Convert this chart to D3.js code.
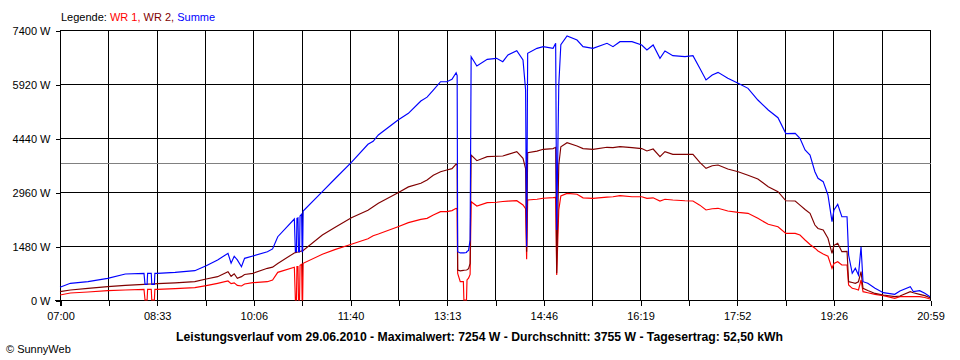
<!DOCTYPE html>
<html>
<head>
<meta charset="utf-8">
<script src="https://cdn.jsdelivr.net/npm/d3@7"></script>
<style>
  html, body { margin: 0; padding: 0; background: #fff; }
  svg { display: block; }
  text { font-family: "Liberation Sans", Arial, sans-serif; }
</style>
</head>
<body>
<svg id="chart" width="960" height="360"></svg>
<script>
// ---------- data (times in minutes after midnight, values in W) ----------
const times = [420,430,447,466,483,501,502,504,504.5,508,508.5,511,511.5,514,531,550,561,572,
  582,585,588,591,595,598,606,620,625,630,646,647,648,648.5,649.5,650,651,651.5,653,653.5,654,654.5,
  673,685,701,717,722,727,746,756,768,774,780,787,793,798,802,803,803.5,806,809,809.5,812,812.5,814,815.5,816.5,
  822,832,841,847,852,860.5,866.5,869,870,871,880,886,895.5,898,899,901,903,909,918.6,924.4,934,947.5,953.3,960,
  971.6,981,986,992,998.6,1003.4,1011,1022.7,1030.4,1037,1043,1049,1054.6,1064,1074,1083.5,1093,1103,1112.4,
  1120,1129,1133.6,1138.5,1143.3,1148,1151,1156,1160.6,1164.5,1166.4,1170,1174,1179,1180.5,1184,1187,1190,
  1192.5,1194.4,1199,1206,1214,1225,1230,1240,1243,1249,1254,1259];
const wr1 = [137,192,220,256,275,292,0,0,292,292,0,0,292,292,310,338,393,457,
  521,450,470,400,384,440,475,502,548,758,900,0,0,913,913,0,0,950,980,0,0,1005,
  1252,1380,1526,1680,1763,1810,2009,2120,2210,2238,2330,2421,2421,2450,2512,2500,731,502,502,0,0,550,600,700,2695,
  2576,2667,2680,2700,2710,2722,2604,2500,1114,2741,2760,2790,2804,2810,685,2467,2850,2923,2900,2800,2787,2820,2831,2859,
  2831,2831,2786,2800,2713,2760,2740,2720,2713,2600,2467,2500,2513,2439,2400,2376,2238,2074,2009,
  1827,1827,1780,1644,1520,1420,1343,1260,1200,868,1000,1050,959,959,411,320,300,274,
  548,228,200,155,120,46,91,91,91,91,70,27];
const wr2 = [228,274,320,365,400,430,432,434,435,438,438,440,440,448,470,502,576,639,
  777,650,720,594,640,700,731,868,900,1000,1290,1300,1305,1310,1315,1318,1320,1330,1345,1350,1355,1360,
  1781,1990,2256,2460,2557,2650,2941,3100,3198,3290,3420,3517,3563,3600,3727,3700,822,800,810,815,822,830,860,1000,3974,
  3818,3928,3940,3947,3990,4065,3883,3600,1324,4038,4080,4130,4150,4185,731,3700,4200,4312,4221,4150,4130,4185,4175,4203,
  4175,4150,4084,4138,3928,4065,3993,3990,3993,3773,3609,3680,3700,3590,3517,3420,3316,3105,2968,
  2720,2713,2600,2480,2376,2055,1960,1918,1690,1279,1500,1553,1324,1330,502,480,457,500,
  777,320,260,180,137,91,110,228,200,155,120,64];
const summe = [350,457,502,594,712,731,430,430,731,731,430,430,731,731,758,804,941,1096,
  1279,1010,1200,1100,913,1142,1206,1324,1400,1735,2220,1324,1324,2238,2250,1324,1324,2300,2350,1324,1324,2439,
  2968,3316,3773,4267,4350,4522,4933,5116,5454,5560,5755,5983,5983,6050,6230,6150,1324,1290,1290,1290,1300,1330,1360,1650,6669,
  6413,6596,6623,6532,6715,6833,6578,5755,1461,6760,6897,6943,6897,7035,1918,5892,7000,7236,7126,6943,6897,7035,6943,7080,
  7080,6989,6852,6989,6623,6824,6696,6669,6696,6350,6030,6167,6239,6075,5938,5801,5481,5207,4997,
  4560,4568,4431,4111,3974,3517,3335,3243,2878,2147,2467,2622,2283,2283,1233,731,868,685,
  1461,502,457,320,201,155,247,365,228,256,183,91];

const durchschnitt = 3755;
const xTickLabels = ["07:00","08:33","10:06","11:40","13:13","14:46","16:19","17:52","19:26","20:59"];
const yTicks = [0,1480,2960,4440,5920,7400];
const legendItems = ["WR 1", "WR 2", "Summe"];
const titleText = "Leistungsverlauf vom 29.06.2010 - Maximalwert: 7254 W - Durchschnitt: 3755 W - Tagesertrag: 52,50 kWh";
const copyrightText = "\u00A9 SunnyWeb";

// ---------- layout ----------
const svg = d3.select("#chart");
const pLeft = 60, pRight = 930, pTop = 30, pBottom = 300;
const tStart = 420, tEnd = 1259;
const x = d3.scaleLinear().domain([tStart, tEnd]).range([pLeft, pRight]);
const y = d3.scaleLinear().domain([0, 7400]).range([pBottom, pTop]);
const colors = { wr1: "#ff0000", wr2: "#800000", summe: "#0000ff" };

svg.append("rect").attr("width", 960).attr("height", 360).attr("fill", "#fff");

// vertical grid ticks (18 intervals)
const xTickVals = d3.range(19).map(i => tStart + i * (tEnd - tStart) / 18);

// grid
const grid = svg.append("g").attr("shape-rendering", "crispEdges");
grid.selectAll("line.v").data(xTickVals).join("line")
  .attr("x1", d => Math.round(x(d)) + 0.5).attr("x2", d => Math.round(x(d)) + 0.5)
  .attr("y1", pTop).attr("y2", pBottom)
  .attr("stroke", "#000").attr("stroke-width", 1);
grid.selectAll("line.h").data(yTicks).join("line")
  .attr("x1", pLeft).attr("x2", pRight + 1)
  .attr("y1", d => Math.round(y(d)) + 0.5).attr("y2", d => Math.round(y(d)) + 0.5)
  .attr("stroke", "#000").attr("stroke-width", 1);

// average line
svg.append("line")
  .attr("x1", pLeft).attr("x2", pRight + 1)
  .attr("y1", Math.round(y(durchschnitt)) + 0.5).attr("y2", Math.round(y(durchschnitt)) + 0.5)
  .attr("stroke", "#808080").attr("stroke-width", 1).attr("shape-rendering", "crispEdges");

// axes
const xAxis = d3.axisBottom(x)
  .tickValues(xTickVals)
  .tickSize(5).tickSizeOuter(0).tickPadding(7)
  .tickFormat((d, i) => i % 2 === 0 ? xTickLabels[i / 2] : "");
const gx = svg.append("g").attr("transform", `translate(0.5,${pBottom + 0.5})`).call(xAxis);
const yAxis = d3.axisLeft(y)
  .tickValues(yTicks)
  .tickSize(5).tickSizeOuter(0).tickPadding(5)
  .tickFormat(d => d + " W");
const gy = svg.append("g").attr("transform", `translate(${pLeft + 0.5},0.5)`).call(yAxis);
[gx, gy].forEach(g => {
  g.attr("shape-rendering", "crispEdges");
  g.selectAll("path.domain").attr("stroke", "#000");
  g.selectAll(".tick line").attr("stroke", "#000");
  g.selectAll("text").attr("fill", "#000").style("font-size", "11px")
    .style("font-family", '"Liberation Sans", Arial, sans-serif');
});
gy.select("path.domain").attr("d", `M0,${pTop}V${pBottom + 5}`);
gx.select("path.domain").attr("d", `M${pLeft - 5 - 0.5},0H${pRight}`);

// series
const rows = times.map((t, i) => ({ t, wr1: wr1[i], wr2: wr2[i], summe: summe[i] }));
["wr1", "wr2", "summe"].forEach(k => {
  const line = d3.line().x(d => x(d.t)).y(d => y(d[k]));
  svg.append("path").datum(rows)
    .attr("d", line)
    .attr("fill", "none")
    .attr("stroke", colors[k])
    .attr("stroke-width", 1.15)
    .attr("stroke-linejoin", "miter");
});

// legend
const leg = svg.append("text").attr("x", 61).attr("y", 21).style("font-size", "11px");
leg.append("tspan").attr("fill", "#000").text("Legende: ");
leg.append("tspan").attr("fill", colors.wr1).text(legendItems[0] + ", ");
leg.append("tspan").attr("fill", colors.wr2).text(legendItems[1] + ", ");
leg.append("tspan").attr("fill", colors.summe).text(legendItems[2]);

// title
svg.append("text").attr("x", 479.5).attr("y", 341)
  .attr("text-anchor", "middle")
  .attr("textLength", 607).attr("lengthAdjust", "spacingAndGlyphs")
  .style("font-size", "13px").style("font-weight", "bold")
  .attr("fill", "#000").text(titleText);

svg.append("text").attr("x", 6).attr("y", 353)
  .style("font-size", "11px").attr("fill", "#000").text(copyrightText);
</script>
</body>
</html>
